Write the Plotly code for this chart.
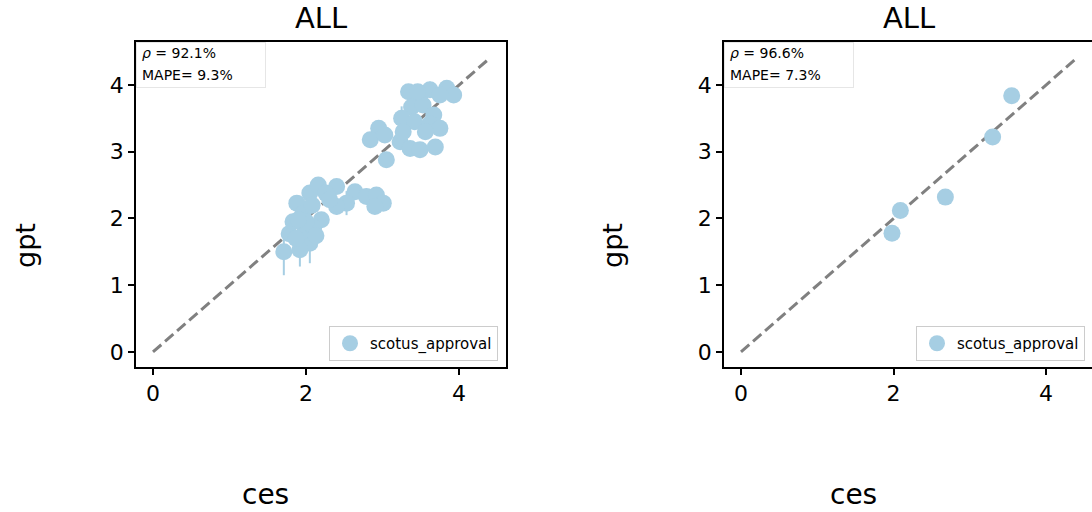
import plotly.graph_objects as go

# ---------------- data ----------------
left_ces = [1.71, 1.78, 1.88, 1.96, 2.05, 2.16, 2.20, 2.05, 1.92, 1.99, 1.87, 2.10, 2.08,
            2.40, 2.64, 2.53, 2.40, 2.79, 2.92, 3.01, 2.90, 2.26, 2.31, 2.00, 1.83, 2.13, 1.90,
            3.34, 3.49, 3.62, 3.84, 3.93, 3.38, 3.53, 3.67, 3.25, 3.42, 3.62, 3.75, 2.95, 2.84,
            3.03, 3.23, 3.36, 3.49, 3.69, 3.05, 3.27, 3.56, 3.75, 3.46]
left_gpt = [1.50, 1.77, 2.23, 2.08, 2.38, 2.50, 1.98, 1.63, 1.53, 1.83, 1.70, 1.86, 2.20,
            2.48, 2.40, 2.23, 2.18, 2.33, 2.35, 2.23, 2.18, 2.38, 2.28, 1.95, 1.95, 1.74, 1.98,
            3.90, 3.85, 3.93, 3.95, 3.85, 3.67, 3.70, 3.55, 3.50, 3.45, 3.42, 3.35, 3.35, 3.18,
            3.25, 3.15, 3.05, 3.03, 3.07, 2.88, 3.30, 3.30, 3.85, 3.90]
left_err = [0.35, 0.10, 0.12, 0.08, 0.06, 0.05, 0.08, 0.30, 0.25, 0.08, 0.10, 0.08, 0.06,
            0.08, 0.06, 0.18, 0.12, 0.06, 0.05, 0.06, 0.05, 0.05, 0.05, 0.06, 0.10, 0.10, 0.08,
            0.05, 0.05, 0.12, 0.05, 0.05, 0.06, 0.05, 0.06, 0.18, 0.06, 0.05, 0.05, 0.08, 0.06,
            0.06, 0.12, 0.05, 0.05, 0.05, 0.10, 0.06, 0.05, 0.05, 0.05]

right_ces = [1.98, 2.09, 2.68, 3.30, 3.55]
right_gpt = [1.78, 2.12, 2.32, 3.22, 3.84]

ident = [0.0, 4.4]
series_name = "scotus_approval"
titles = ["ALL", "ALL"]
rho_text = ["<i>ρ</i> = 92.1%", "<i>ρ</i> = 96.6%"]
mape_text = ["MAPE= 9.3%", "MAPE= 7.3%"]
tickvals = [0, 1, 2, 3, 4]

W, H = 1092, 512
COLOR = "#a6cee3"
FONT = "DejaVu Sans"

def px(x):
    return x / W

def py(y):
    return 1 - y / H

fig = go.Figure()

# left panel
fig.add_trace(go.Scatter(x=ident, y=ident, mode="lines", xaxis="x", yaxis="y",
                         line=dict(color="#808080", width=3, dash="11px,5px"),
                         showlegend=False, hoverinfo="skip"))
fig.add_trace(go.Scatter(x=left_ces, y=left_gpt, mode="markers", xaxis="x", yaxis="y",
                         name=series_name, legend="legend",
                         marker=dict(color=COLOR, size=17, line=dict(width=0)),
                         error_y=dict(type="data", array=left_err, color=COLOR,
                                      thickness=2, width=0)))
# right panel
fig.add_trace(go.Scatter(x=ident, y=ident, mode="lines", xaxis="x2", yaxis="y2",
                         line=dict(color="#808080", width=3, dash="11px,5px"),
                         showlegend=False, hoverinfo="skip"))
fig.add_trace(go.Scatter(x=right_ces, y=right_gpt, mode="markers", xaxis="x2", yaxis="y2",
                         name=series_name, legend="legend2",
                         marker=dict(color=COLOR, size=17, line=dict(width=0))))

axis_common = dict(showgrid=False, zeroline=False, showline=True, linecolor="black",
                   linewidth=1.5, ticks="outside", ticklen=6, tickwidth=1.5,
                   tickcolor="black", tickfont=dict(family=FONT, size=22, color="black"))

ydom = [py(367), py(42)]
fig.update_layout(
    width=W, height=H, margin=dict(l=0, r=0, t=0, b=0),
    plot_bgcolor="white", paper_bgcolor="white",
    font=dict(family=FONT, color="black"),
    xaxis=dict(domain=[px(136), px(506)], range=[-0.222, 4.614], anchor="y",
               tickvals=[0, 2, 4], mirror=True, **axis_common),
    yaxis=dict(domain=ydom, range=[-0.225, 4.644], anchor="x",
               tickvals=tickvals, mirror=True, **axis_common),
    xaxis2=dict(domain=[px(724), 1.0], range=[-0.223, 4.603], anchor="y2",
                tickvals=[0, 2, 4], mirror=True, **axis_common),
    yaxis2=dict(domain=ydom, range=[-0.225, 4.644], anchor="x2",
                tickvals=tickvals, mirror=False, **axis_common),
    legend=dict(x=px(498), y=py(361), xanchor="right", yanchor="bottom",
                bgcolor="white", bordercolor="#cccccc", borderwidth=1,
                font=dict(family=FONT, size=15, color="black")),
    legend2=dict(x=px(1085), y=py(361), xanchor="right", yanchor="bottom",
                 bgcolor="white", bordercolor="#cccccc", borderwidth=1,
                 font=dict(family=FONT, size=15, color="black")),
)

annotations = []
for cx, title in zip([321, 909], titles):
    annotations.append(dict(x=px(cx), y=py(18), xref="paper", yref="paper", text=title,
                            showarrow=False, xanchor="center", yanchor="middle",
                            font=dict(family=FONT, size=29, color="black")))
for lx, rt, mt in zip([136, 724], rho_text, mape_text):
    # white background box of the statistics text
    annotations.append(dict(x=px(lx), y=py(42), xref="paper", yref="paper", text=" ",
                            showarrow=False, xanchor="left", yanchor="top",
                            width=128, height=44, bgcolor="white", bordercolor="#e6e6e6",
                            borderwidth=1, borderpad=0))
    annotations.append(dict(x=px(lx + 4), y=py(53), xref="paper", yref="paper", text=rt,
                            showarrow=False, xanchor="left", yanchor="middle",
                            font=dict(family=FONT, size=14, color="black")))
    annotations.append(dict(x=px(lx + 4), y=py(75), xref="paper", yref="paper", text=mt,
                            showarrow=False, xanchor="left", yanchor="middle",
                            font=dict(family=FONT, size=14, color="black")))
for gx in [25, 612]:
    annotations.append(dict(x=px(gx), y=py(246), xref="paper", yref="paper", text="gpt",
                            showarrow=False, textangle=-90, xanchor="center", yanchor="middle",
                            font=dict(family=FONT, size=27, color="black")))
for cx in [265, 853]:
    annotations.append(dict(x=px(cx), y=py(494), xref="paper", yref="paper", text="ces",
                            showarrow=False, xanchor="center", yanchor="middle",
                            font=dict(family=FONT, size=28, color="black")))
fig.update_layout(annotations=annotations)

fig.write_html("out.html", config={"displayModeBar": False},
               post_script="document.body.style.margin='0';document.body.style.overflow='hidden';")
